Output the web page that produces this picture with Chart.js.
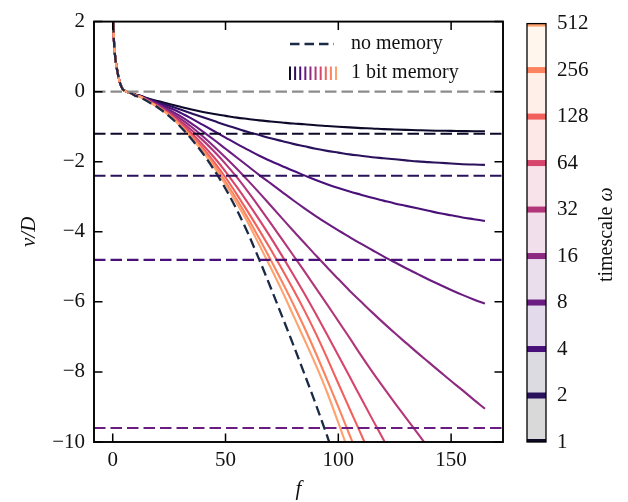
<!DOCTYPE html>
<html><head><meta charset="utf-8">
<script src="https://cdn.jsdelivr.net/npm/chart.js@4"></script>
<style>
html,body{margin:0;padding:0;background:#fff;}
#wrap{position:relative;width:628px;height:502px;overflow:hidden;}
#main{position:absolute;left:0;top:0;}
#cb{position:absolute;left:520px;top:0;}
</style></head><body>
<div id="wrap">
<canvas id="main" width="628" height="502"></canvas>
<canvas id="cb" width="108" height="502"></canvas>
</div>
<script>
// ---------- data ----------
const F = [0,0.5,1,2,3,4,5,6,8,10,12,15,20,25,30,35,40,45,50,55,60,65,70,75,80,85,90,95,100,105,110,115,120,125,130,135,140,145,150,155,160,165];
const OMEGA = [1,2,4,8,16,32,64,128,256,512];
const X_TICKS = [0,50,100,150];
const Y_TICKS = [-10,-8,-6,-4,-2,0,2];
const X_RANGE = [-8.3,173];
const Y_RANGE = [-10,2];
const ASYMPTOTES = [-1.2,-2.4,-4.8,-9.6];   // -1.2*omega for omega = 1,2,4,8
const ZERO = [0];

const vW1   = [2.4,1.5,1.05,0.6,0.3,0.12,0.04,0.0,-0.04,-0.08,-0.11,-0.18,-0.27,-0.35,-0.43,-0.51,-0.58,-0.64,-0.69,-0.74,-0.78,-0.82,-0.85,-0.88,-0.91,-0.93,-0.96,-0.98,-1.0,-1.02,-1.04,-1.05,-1.07,-1.08,-1.09,-1.1,-1.11,-1.115,-1.12,-1.125,-1.13,-1.13];
const vW2   = [2.4,1.5,1.05,0.6,0.3,0.12,0.04,0.0,-0.04,-0.09,-0.12,-0.19,-0.3,-0.4,-0.51,-0.62,-0.73,-0.84,-0.95,-1.05,-1.15,-1.24,-1.33,-1.41,-1.49,-1.56,-1.63,-1.69,-1.74,-1.79,-1.83,-1.87,-1.9,-1.93,-1.96,-1.99,-2.01,-2.03,-2.05,-2.07,-2.08,-2.09];
const vW4   = [2.4,1.5,1.05,0.6,0.3,0.12,0.04,0.0,-0.04,-0.09,-0.12,-0.2,-0.33,-0.46,-0.6,-0.77,-0.95,-1.13,-1.31,-1.49,-1.66,-1.83,-1.98,-2.12,-2.26,-2.39,-2.52,-2.64,-2.75,-2.85,-2.94,-3.03,-3.11,-3.19,-3.26,-3.33,-3.4,-3.47,-3.53,-3.59,-3.64,-3.69];
const vW8   = [2.4,1.5,1.05,0.6,0.3,0.12,0.04,0.0,-0.04,-0.1,-0.13,-0.21,-0.36,-0.52,-0.7,-0.91,-1.14,-1.38,-1.63,-1.88,-2.13,-2.38,-2.62,-2.86,-3.1,-3.33,-3.55,-3.76,-3.96,-4.15,-4.34,-4.52,-4.7,-4.87,-5.04,-5.2,-5.36,-5.51,-5.66,-5.8,-5.93,-6.05];
const vW16  = [2.4,1.5,1.05,0.6,0.3,0.12,0.04,0.0,-0.04,-0.1,-0.13,-0.22,-0.38,-0.56,-0.77,-1.01,-1.28,-1.57,-1.88,-2.2,-2.54,-2.89,-3.25,-3.61,-3.97,-4.32,-4.67,-5.01,-5.35,-5.68,-5.99,-6.3,-6.6,-6.89,-7.17,-7.45,-7.72,-7.99,-8.26,-8.52,-8.79,-9.05];
const vW32  = [2.4,1.5,1.05,0.6,0.3,0.12,0.04,0.0,-0.04,-0.1,-0.13,-0.23,-0.4,-0.6,-0.84,-1.1,-1.39,-1.71,-2.06,-2.44,-2.86,-3.3,-3.75,-4.21,-4.67,-5.13,-5.6,-6.07,-6.55,-7.03,-7.52,-7.99,-8.44,-8.88,-9.31,-9.74,-10.17];
const vW64  = [2.4,1.5,1.05,0.6,0.3,0.12,0.04,0.0,-0.04,-0.1,-0.14,-0.24,-0.42,-0.63,-0.89,-1.19,-1.52,-1.88,-2.28,-2.72,-3.18,-3.66,-4.16,-4.68,-5.22,-5.77,-6.34,-6.93,-7.53,-8.13,-8.74,-9.34,-9.93,-10.55];
const vW128 = [2.4,1.5,1.05,0.6,0.3,0.12,0.04,0.0,-0.04,-0.11,-0.14,-0.24,-0.43,-0.65,-0.93,-1.25,-1.61,-2.01,-2.45,-2.93,-3.44,-3.96,-4.5,-5.06,-5.64,-6.25,-6.9,-7.6,-8.33,-9.05,-9.77,-10.5];
const vW256 = [2.4,1.5,1.05,0.6,0.3,0.12,0.04,0.0,-0.04,-0.11,-0.14,-0.25,-0.44,-0.67,-0.96,-1.3,-1.68,-2.1,-2.57,-3.08,-3.62,-4.2,-4.8,-5.42,-6.06,-6.74,-7.46,-8.22,-9.0,-9.8,-10.6];
const vW512 = [2.4,1.5,1.05,0.6,0.3,0.12,0.04,0.0,-0.04,-0.11,-0.14,-0.25,-0.44,-0.68,-0.98,-1.33,-1.72,-2.16,-2.65,-3.19,-3.75,-4.38,-5.02,-5.68,-6.38,-7.08,-7.8,-8.58,-9.45,-10.35];
const vNoMem = [2.4,1.5,1.05,0.6,0.3,0.12,0.04,0.0,-0.04,-0.12,-0.15,-0.26,-0.45,-0.7,-1.0,-1.36,-1.77,-2.24,-2.77,-3.37,-4.05,-4.8,-5.59,-6.4,-7.22,-8.06,-8.92,-9.82,-10.77];

const SERIES = [vW1,vW2,vW4,vW8,vW16,vW32,vW64,vW128,vW256,vW512];

// ---------- style ----------
const LINE_COLORS = ['#0d0a29','#2a115c','#4a1079','#6a1c81','#8c2981','#b3367a','#d6456c','#f1605d','#fb8360','#fea26e'];
const BAND_COLORS = ['rgba(0,0,4,0.15)','rgba(24,15,61,0.15)','rgba(68,15,118,0.15)','rgba(114,31,129,0.15)','rgba(158,47,127,0.15)','rgba(205,64,113,0.15)','rgba(241,96,93,0.15)','rgba(253,150,104,0.15)','rgba(254,202,141,0.15)'];
const NM_COLOR = '#1b2a47';
const FONT = "'Liberation Serif', 'Times New Roman', serif";
const TEXT = '#111';
const DASH = [11.5,5];
const NM_DASH = [10,5];

Chart.defaults.font.family = FONT;
Chart.defaults.font.size = 21;
Chart.defaults.color = TEXT;

const toPts = vals => vals.map((v,j)=>({x:F[j], y:v}));

const datasets = [];
SERIES.forEach((vals,i)=>{
  datasets.push({data: toPts(vals), borderColor: LINE_COLORS[i], borderWidth: 2.1,
    pointRadius: 0, cubicInterpolationMode: 'monotone', capBezierPoints: false, order: 30 - i});
});
datasets.push({data: toPts(vNoMem), borderColor: NM_COLOR, borderWidth: 2.3, borderDash: NM_DASH,
  pointRadius: 0, cubicInterpolationMode: 'monotone', capBezierPoints: false, order: 10});
ASYMPTOTES.forEach((a,i)=>{
  datasets.push({data: [{x:X_RANGE[0],y:a},{x:X_RANGE[1],y:a}], borderColor: LINE_COLORS[i],
    borderWidth: 2.1, borderDash: DASH, pointRadius: 0, order: 5 - i});
});
datasets.push({data: [{x:X_RANGE[0],y:ZERO[0]},{x:X_RANGE[1],y:ZERO[0]}], borderColor: '#8c8c8c',
  borderWidth: 2.1, borderDash: DASH, pointRadius: 0, order: 0});

const TL = 8.5;
const framePlugin = {
  id: 'frame',
  afterDatasetsDraw(chart){
    const {ctx, chartArea:a, scales:{x,y}} = chart;
    ctx.save();
    ctx.strokeStyle = '#000';
    ctx.lineWidth = 1.5;
    ctx.beginPath();
    X_TICKS.forEach(t=>{
      const px = x.getPixelForValue(t);
      ctx.moveTo(px, a.bottom); ctx.lineTo(px, a.bottom - TL);
      ctx.moveTo(px, a.top); ctx.lineTo(px, a.top + TL);
    });
    Y_TICKS.forEach(t=>{
      const py = y.getPixelForValue(t);
      ctx.moveTo(a.left, py); ctx.lineTo(a.left + TL, py);
      ctx.moveTo(a.right, py); ctx.lineTo(a.right - TL, py);
    });
    ctx.stroke();
    ctx.lineWidth = 1.9;
    ctx.strokeRect(a.left, a.top, a.right - a.left, a.bottom - a.top);

    // legend
    ctx.font = '20px ' + FONT;
    ctx.fillStyle = TEXT;
    ctx.textBaseline = 'middle';
    ctx.textAlign = 'left';
    const lx0 = 290, lx1 = 334;
    ctx.strokeStyle = NM_COLOR; ctx.lineWidth = 2.3;
    ctx.setLineDash([9.5,5]);
    ctx.beginPath(); ctx.moveTo(lx0, 44); ctx.lineTo(lx1, 44); ctx.stroke();
    ctx.setLineDash([]);
    ctx.fillText('no memory', 351, 44);
    const n = LINE_COLORS.length;
    for (let i=0;i<n;i++){
      const px = 290 + i*(46/(n-1));
      ctx.strokeStyle = LINE_COLORS[i]; ctx.lineWidth = 2;
      ctx.beginPath(); ctx.moveTo(px, 66.5); ctx.lineTo(px, 80); ctx.stroke();
    }
    ctx.fillText('1 bit memory', 351, 73);
    ctx.restore();
  }
};

new Chart(document.getElementById('main'), {
  type: 'line',
  data: {datasets},
  options: {
    responsive: false, animation: false, devicePixelRatio: 1,
    layout: {padding: {left: 0, right: 125, top: 15.6, bottom: 0}},
    plugins: {legend: {display: false}, tooltip: {enabled: false}},
    scales: {
      x: {type: 'linear', min: X_RANGE[0], max: X_RANGE[1],
        grid: {display: false, drawTicks: false}, border: {display: false},
        afterBuildTicks: s => { s.ticks = X_TICKS.map(v=>({value:v})); },
        afterFit: s => { s.height = 60; },
        ticks: {padding: 6, color: TEXT, font: {size: 21}, callback: v => String(v).replace('-', '\u2212')},
        title: {display: true, text: 'f', font: {size: 21, style: 'italic'}, color: TEXT, padding: {top: 0, bottom: 0}}
      },
      y: {type: 'linear', min: Y_RANGE[0], max: Y_RANGE[1],
        grid: {display: false, drawTicks: false}, border: {display: false},
        afterBuildTicks: s => { s.ticks = Y_TICKS.map(v=>({value:v})); },
        afterFit: s => { s.width = 94; },
        ticks: {padding: 9, color: TEXT, font: {size: 21}, callback: v => String(v).replace('-', '\u2212')},
        title: {display: true, text: 'v/D', font: {size: 21, style: 'italic'}, color: TEXT, padding: {top: 17, bottom: 0}}
      }
    }
  },
  plugins: [framePlugin]
});

// ---------- colorbar ----------
const cbDatasets = BAND_COLORS.map((c,i)=>({data: [[i, i+1]], backgroundColor: c, borderWidth: 0,
  barPercentage: 1, categoryPercentage: 1, grouped: false}));

const cbPlugin = {
  id: 'cbdeco',
  afterDatasetsDraw(chart){
    const {ctx, chartArea:a, scales:{y}} = chart;
    ctx.save();
    ctx.beginPath(); ctx.rect(a.left, a.top, a.right-a.left, a.bottom-a.top); ctx.clip();
    OMEGA.forEach((w,i)=>{
      const py = y.getPixelForValue(i);
      ctx.fillStyle = LINE_COLORS[i];
      ctx.fillRect(a.left, py - 3, a.right - a.left, 6);
    });
    ctx.restore();
    ctx.save();
    ctx.strokeStyle = '#000'; ctx.lineWidth = 1.3;
    ctx.strokeRect(a.left, a.top, a.right - a.left, a.bottom - a.top);
    // title
    ctx.translate(87, (a.top + a.bottom)/2 + 2);
    ctx.rotate(-Math.PI/2);
    ctx.fillStyle = TEXT; ctx.textBaseline = 'middle'; ctx.textAlign = 'left';
    ctx.font = '20px ' + FONT;
    const t1 = 'timescale ';
    const w1 = ctx.measureText(t1).width;
    ctx.font = 'italic 20px ' + FONT;
    const w2 = ctx.measureText('\u03c9').width;
    const x0 = -(w1 + w2)/2;
    ctx.font = '20px ' + FONT;
    ctx.fillText(t1, x0, 0);
    ctx.font = 'italic 20px ' + FONT;
    ctx.fillText('\u03c9', x0 + w1, 0);
    ctx.restore();
  }
};

new Chart(document.getElementById('cb'), {
  type: 'bar',
  data: {labels: ['cb'], datasets: cbDatasets},
  options: {
    responsive: false, animation: false, devicePixelRatio: 1,
    layout: {padding: {left: 7, right: 0, top: 15.6, bottom: 60}},
    plugins: {legend: {display: false}, tooltip: {enabled: false}},
    scales: {
      x: {display: false},
      y: {position: 'right', min: 0, max: OMEGA.length - 1,
        grid: {display: false, drawTicks: false}, border: {display: false},
        afterBuildTicks: s => { s.ticks = OMEGA.map((w,i)=>({value:i})); },
        afterFit: s => { s.width = 82; },
        ticks: {padding: 11, color: TEXT, font: {size: 21}, autoSkip: false, callback: v => String(OMEGA[v])}
      }
    }
  },
  plugins: [cbPlugin]
});
</script>
</body></html>
